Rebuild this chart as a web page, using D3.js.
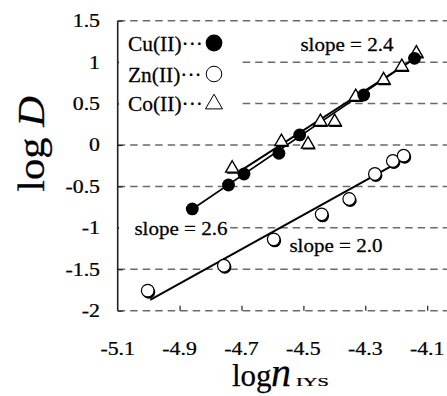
<!DOCTYPE html>
<html>
<head>
<meta charset="utf-8">
<script src="https://cdn.jsdelivr.net/npm/d3@7"></script>
<style>
  body { margin: 0; background: #fff; }
  svg { display: block; }
  text { font-family: "Liberation Serif", "Times New Roman", serif; fill: #000; stroke: #000; stroke-width: 0.25; }
</style>
</head>
<body>
<svg id="chart" width="447" height="396"></svg>
<script>
// data (log n_IYS, log D)
let cuX = [-4.859, -4.742, -4.692, -4.579, -4.512, -4.305, -4.141];
let cuY = [-0.772, -0.483, -0.350, -0.100, 0.121, 0.603, 1.046];
let znX = [-5.003, -4.757, -4.596, -4.441, -4.352, -4.269, -4.211, -4.176];
let znY = [-1.758, -1.457, -1.139, -0.837, -0.652, -0.350, -0.193, -0.129];
let coX = [-4.730, -4.571, -4.485, -4.445, -4.399, -4.331, -4.241, -4.182, -4.135];
let coY = [-0.282, 0.040, 0.008, 0.281, 0.281, 0.583, 0.784, 0.945, 1.107];

// fitted lines, end points
let cuFitX = [-4.857, -4.135];
let cuFitY = [-0.770, 1.060];
let coFitX = [-4.711, -4.125];
let coFitY = [-0.330, 1.080];
let znFitX = [-4.995, -4.156];
let znFitY = [-1.870, -0.130];

let xTicks = [-5.1, -4.9, -4.7, -4.5, -4.3, -4.1];
let yTicks = [-2, -1.5, -1, -0.5, 0, 0.5, 1, 1.5];
let slopeLabels = ["slope = 2.4", "slope = 2.6", "slope = 2.0"];
let legendNames = ["Cu(II)", "Zn(II)", "Co(II)"];

let svg = d3.select("#chart");
let x = d3.scaleLinear().domain([-5.1, -4.036]).range([117.7, 447]);
let y = d3.scaleLinear().domain([-2, 1.5]).range([310.7, 20.7]);

function zip(xs, ys) {
    return xs.map(function (v, i) { return [v, ys[i]]; });
}

// stretched serif text like the original
function label(g, px, py, str, size, anchor, sx) {
    return g.append("text")
        .attr("transform", "translate(" + px + "," + py + ") scale(" + sx + ",1)")
        .attr("text-anchor", anchor)
        .style("font-size", size + "px")
        .text(str);
}

// dashed gridlines (also top and bottom frame)
svg.append("g").selectAll("line")
    .data(yTicks)
    .enter().append("line")
    .attr("x1", x(-5.1)).attr("x2", 447)
    .attr("y1", function (d) { return y(d); })
    .attr("y2", function (d) { return y(d); })
    .attr("stroke", "#6a6a6a")
    .attr("stroke-width", 1.5)
    .attr("stroke-dasharray", "7.5,5");

// left axis with inward ticks
let yAxis = d3.axisRight(y).tickValues(yTicks).tickSize(5).tickFormat("");
svg.append("g").attr("transform", "translate(" + x(-5.1) + ",0)").call(yAxis)
    .call(function (g) {
        g.select(".domain").attr("stroke", "#222").attr("stroke-width", 1.6).attr("d", "M0," + y(1.5) + "V" + y(-2));
        g.selectAll(".tick line").attr("stroke", "#222").attr("stroke-width", 1.2);
    });

// bottom ticks pointing up
let xAxis = d3.axisTop(x).tickValues(xTicks.slice(1)).tickSize(5).tickFormat("");
svg.append("g").attr("transform", "translate(0," + y(-2) + ")").call(xAxis)
    .call(function (g) {
        g.select(".domain").remove();
        g.selectAll(".tick line").attr("stroke", "#222").attr("stroke-width", 1.2);
    });

// tick labels
let tl = svg.append("g");
yTicks.forEach(function (d) {
    label(tl, 100, y(d) + 6.5, String(d), 19.5, "end", 1.12);
});
xTicks.forEach(function (d) {
    label(tl, x(d), 355, String(d), 19.5, "middle", 1.12);
});

// axis titles
let yt = svg.append("text")
    .attr("transform", "translate(44,144) rotate(-90) scale(1.12,1)")
    .attr("text-anchor", "middle")
    .style("font-size", "38px");
yt.append("tspan").text("log ");
yt.append("tspan").style("font-style", "italic").text("D");

svg.append("text").attr("x", 232).attr("y", 386).style("font-size", "31px").text("log");
svg.append("text").attr("x", 271).attr("y", 386).style("font-size", "40px").style("font-style", "italic").text("n");
label(svg, 296, 386, "IYS", 12, "start", 1.7);

// legend box
svg.append("rect").attr("x", 119).attr("y", 27).attr("width", 122).attr("height", 88).attr("fill", "#fff");
let lg = svg.append("g");
let legendY = [51, 82, 111];
legendNames.forEach(function (n, i) {
    label(lg, 128, legendY[i], n + "\u00b7\u00b7\u00b7", 21, "start", 1.02);
});

// slope labels
svg.append("rect").attr("x", 119).attr("y", 219).attr("width", 110).attr("height", 20).attr("fill", "#fff");
label(svg, 347, 51, slopeLabels[0], 19.5, "middle", 1.08);
label(svg, 181, 235, slopeLabels[1], 19.5, "middle", 1.08);
label(svg, 336, 252, slopeLabels[2], 19.5, "middle", 1.08);

// fit lines
let line = d3.line().x(function (d) { return x(d[0]); }).y(function (d) { return y(d[1]); });
let fits = svg.append("g").attr("fill", "none").attr("stroke", "#000");
fits.append("path").datum(zip(znFitX, znFitY)).attr("d", line).attr("stroke-width", 2);
fits.append("path").datum(zip(cuFitX, cuFitY)).attr("d", line).attr("stroke-width", 1.6);
fits.append("path").datum(zip(coFitX, coFitY)).attr("d", line).attr("stroke-width", 2);

let tri = d3.symbol().type(d3.symbolTriangle).size(75);
let triBig = d3.symbol().type(d3.symbolTriangle).size(125);

// Zn open circles with shadow
let zn = svg.append("g").selectAll("g").data(zip(znX, znY)).enter().append("g")
    .attr("transform", function (d) { return "translate(" + x(d[0]) + "," + y(d[1]) + ")"; });
zn.append("circle").attr("cx", 1).attr("cy", 1.5).attr("r", 6.5).attr("fill", "#000");
zn.append("circle").attr("r", 6.3).attr("fill", "#fff").attr("stroke", "#000").attr("stroke-width", 1.2);

// Co triangles with shadow
let co = svg.append("g").selectAll("g").data(zip(coX, coY)).enter().append("g")
    .attr("transform", function (d) { return "translate(" + x(d[0]) + "," + y(d[1]) + ")"; });
co.append("path").attr("d", tri).attr("transform", "translate(1,1.5)").attr("fill", "#000");
co.append("path").attr("d", tri).attr("fill", "#fff").attr("stroke", "#000").attr("stroke-width", 1.4);

// Cu filled circles
svg.append("g").selectAll("circle").data(zip(cuX, cuY)).enter().append("circle")
    .attr("cx", function (d) { return x(d[0]); })
    .attr("cy", function (d) { return y(d[1]); })
    .attr("r", 6.4).attr("fill", "#000");

// legend markers
lg.append("circle").attr("cx", 214).attr("cy", 43).attr("r", 8.4).attr("fill", "#000");
lg.append("circle").attr("cx", 214).attr("cy", 74).attr("r", 7.8).attr("fill", "#fff").attr("stroke", "#000").attr("stroke-width", 1);
lg.append("path").attr("d", triBig).attr("transform", "translate(214,104)")
    .attr("fill", "#fff").attr("stroke", "#000").attr("stroke-width", 1);
</script>
</body>
</html>
